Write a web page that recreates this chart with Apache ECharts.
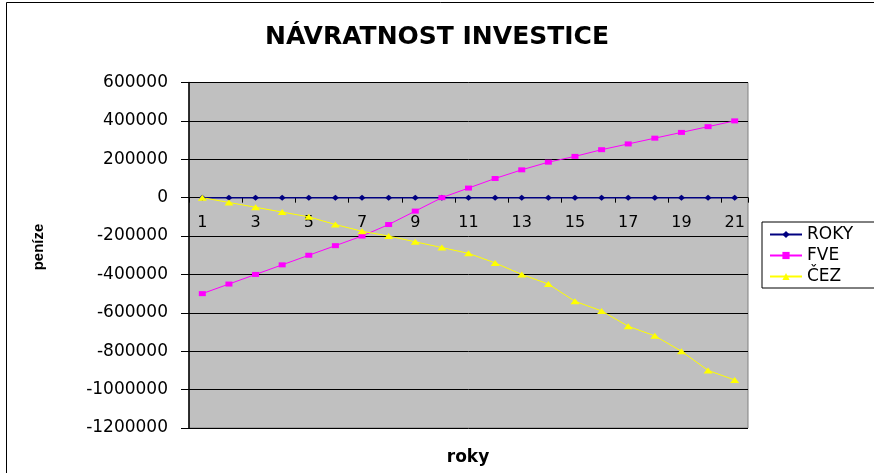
<!DOCTYPE html>
<html>
<head>
<meta charset="utf-8">
<script src="https://cdn.jsdelivr.net/npm/echarts@6/dist/echarts.min.js"></script>
<style>
  html, body { margin: 0; padding: 0; background: #fff; }
  #chart { width: 874px; height: 473px; }
</style>
</head>
<body>
<div id="chart"></div>
<script>
// roky 1..21
const years = ['1', '2', '3', '4', '5', '6', '7', '8', '9', '10', '11', '12', '13', '14', '15', '16', '17', '18', '19', '20', '21']
const roky = [1, 2, 3, 4, 5, 6, 7, 8, 9, 10, 11, 12, 13, 14, 15, 16, 17, 18, 19, 20, 21]
const fve = [-500000, -450000, -400000, -350000, -300000, -250000, -200000, -140000, -70000, 0, 50000,
  100000, 145000, 185000, 215000, 250000, 280000, 310000, 340000, 370000, 400000]
const cez = [0, -25000, -50000, -75000, -100000, -140000, -175000, -200000, -230000, -260000, -290000,
  -340000, -400000, -450000, -540000, -590000, -670000, -720000, -800000, -900000, -950000]

const font = 'DejaVu Sans, Verdana, sans-serif'
const fontArial = 'Liberation Sans, Arial, sans-serif'

// poloha nuly na ose y (osa x lezi na nule)
const gridTop = 82.5
const gridBottom = 45
const yMin = -1200000
const yMax = 600000
const plotH = 473 - gridTop - gridBottom
const zeroOffset = -plotH * (0 - yMin) / (yMax - yMin)

let myChart = echarts.init(document.getElementById('chart'))
myChart.setOption({
  backgroundColor: '#ffffff',
  animation: false,
  title: {
    text: 'NÁVRATNOST INVESTICE',
    left: 'center',
    top: 20,
    textStyle: {
      color: '#000',
      fontFamily: font,
      fontWeight: 'bold',
      fontSize: 25
    }
  },
  graphic: [
    {
      type: 'rect',
      shape: { x: 6.5, y: 2.5, width: 900, height: 500 },
      style: { fill: 'none', stroke: '#000', lineWidth: 1 },
      silent: true
    },
    {
      type: 'text',
      x: 39,
      y: 247,
      rotation: Math.PI / 2,
      style: {
        text: 'peníze',
        fill: '#000',
        fontSize: 15,
        fontWeight: 'bold',
        fontFamily: fontArial,
        align: 'center',
        verticalAlign: 'middle'
      }
    },
    {
      type: 'text',
      x: 468,
      y: 458,
      style: {
        text: 'roky',
        fill: '#000',
        fontSize: 17,
        fontWeight: 'bold',
        fontFamily: font,
        align: 'center',
        verticalAlign: 'middle'
      }
    }
  ],
  legend: {
    orient: 'vertical',
    left: 762,
    top: 222,
    padding: [4, 40, 3, 7],
    itemGap: 4,
    itemWidth: 32,
    itemHeight: 9,
    borderColor: '#000',
    borderWidth: 1,
    textStyle: {
      color: '#000',
      fontFamily: font,
      fontSize: 17
    },
    data: ['ROKY', 'FVE', 'ČEZ']
  },
  grid: {
    left: 189,
    top: gridTop,
    right: 126,
    bottom: gridBottom,
    show: true,
    backgroundColor: '#c0c0c0',
    borderColor: '#808080',
    borderWidth: 1
  },
  xAxis: {
    type: 'category',
    data: years,
    offset: zeroOffset,
    axisLine: {
      onZero: false,
      lineStyle: { color: '#000', width: 1 }
    },
    axisTick: {
      show: true,
      length: 5,
      lineStyle: { color: '#000' }
    },
    axisLabel: {
      interval: 1,
      margin: 17,
      color: '#000',
      fontFamily: font,
      fontSize: 16
    },
    splitLine: { show: false }
  },
  yAxis: {
    type: 'value',
    min: yMin,
    max: yMax,
    interval: 200000,
    axisLine: {
      show: true,
      lineStyle: { color: '#000', width: 1.5 }
    },
    axisTick: {
      show: true,
      length: 8,
      lineStyle: { color: '#000' }
    },
    axisLabel: {
      margin: 21,
      color: '#000',
      fontFamily: font,
      fontSize: 17,
      formatter: function (v) {
        return String(v)
      }
    },
    splitLine: {
      show: true,
      lineStyle: { color: '#000', width: 1 }
    }
  },
  series: [
    {
      name: 'ROKY',
      type: 'line',
      data: roky,
      symbol: 'diamond',
      symbolSize: [7, 6],
      color: '#000080',
      lineStyle: { width: 1.5, color: '#000080' },
      itemStyle: { color: '#000080' }
    },
    {
      name: 'FVE',
      type: 'line',
      data: fve,
      symbol: 'rect',
      symbolSize: [7, 5],
      color: '#ff00ff',
      lineStyle: { width: 1, color: '#ff00ff' },
      itemStyle: { color: '#ff00ff' }
    },
    {
      name: 'ČEZ',
      type: 'line',
      data: cez,
      symbol: 'triangle',
      symbolSize: [9, 6],
      color: '#ffff00',
      lineStyle: { width: 1, color: '#ffff00' },
      itemStyle: { color: '#ffff00' }
    }
  ]
})
</script>
</body>
</html>
